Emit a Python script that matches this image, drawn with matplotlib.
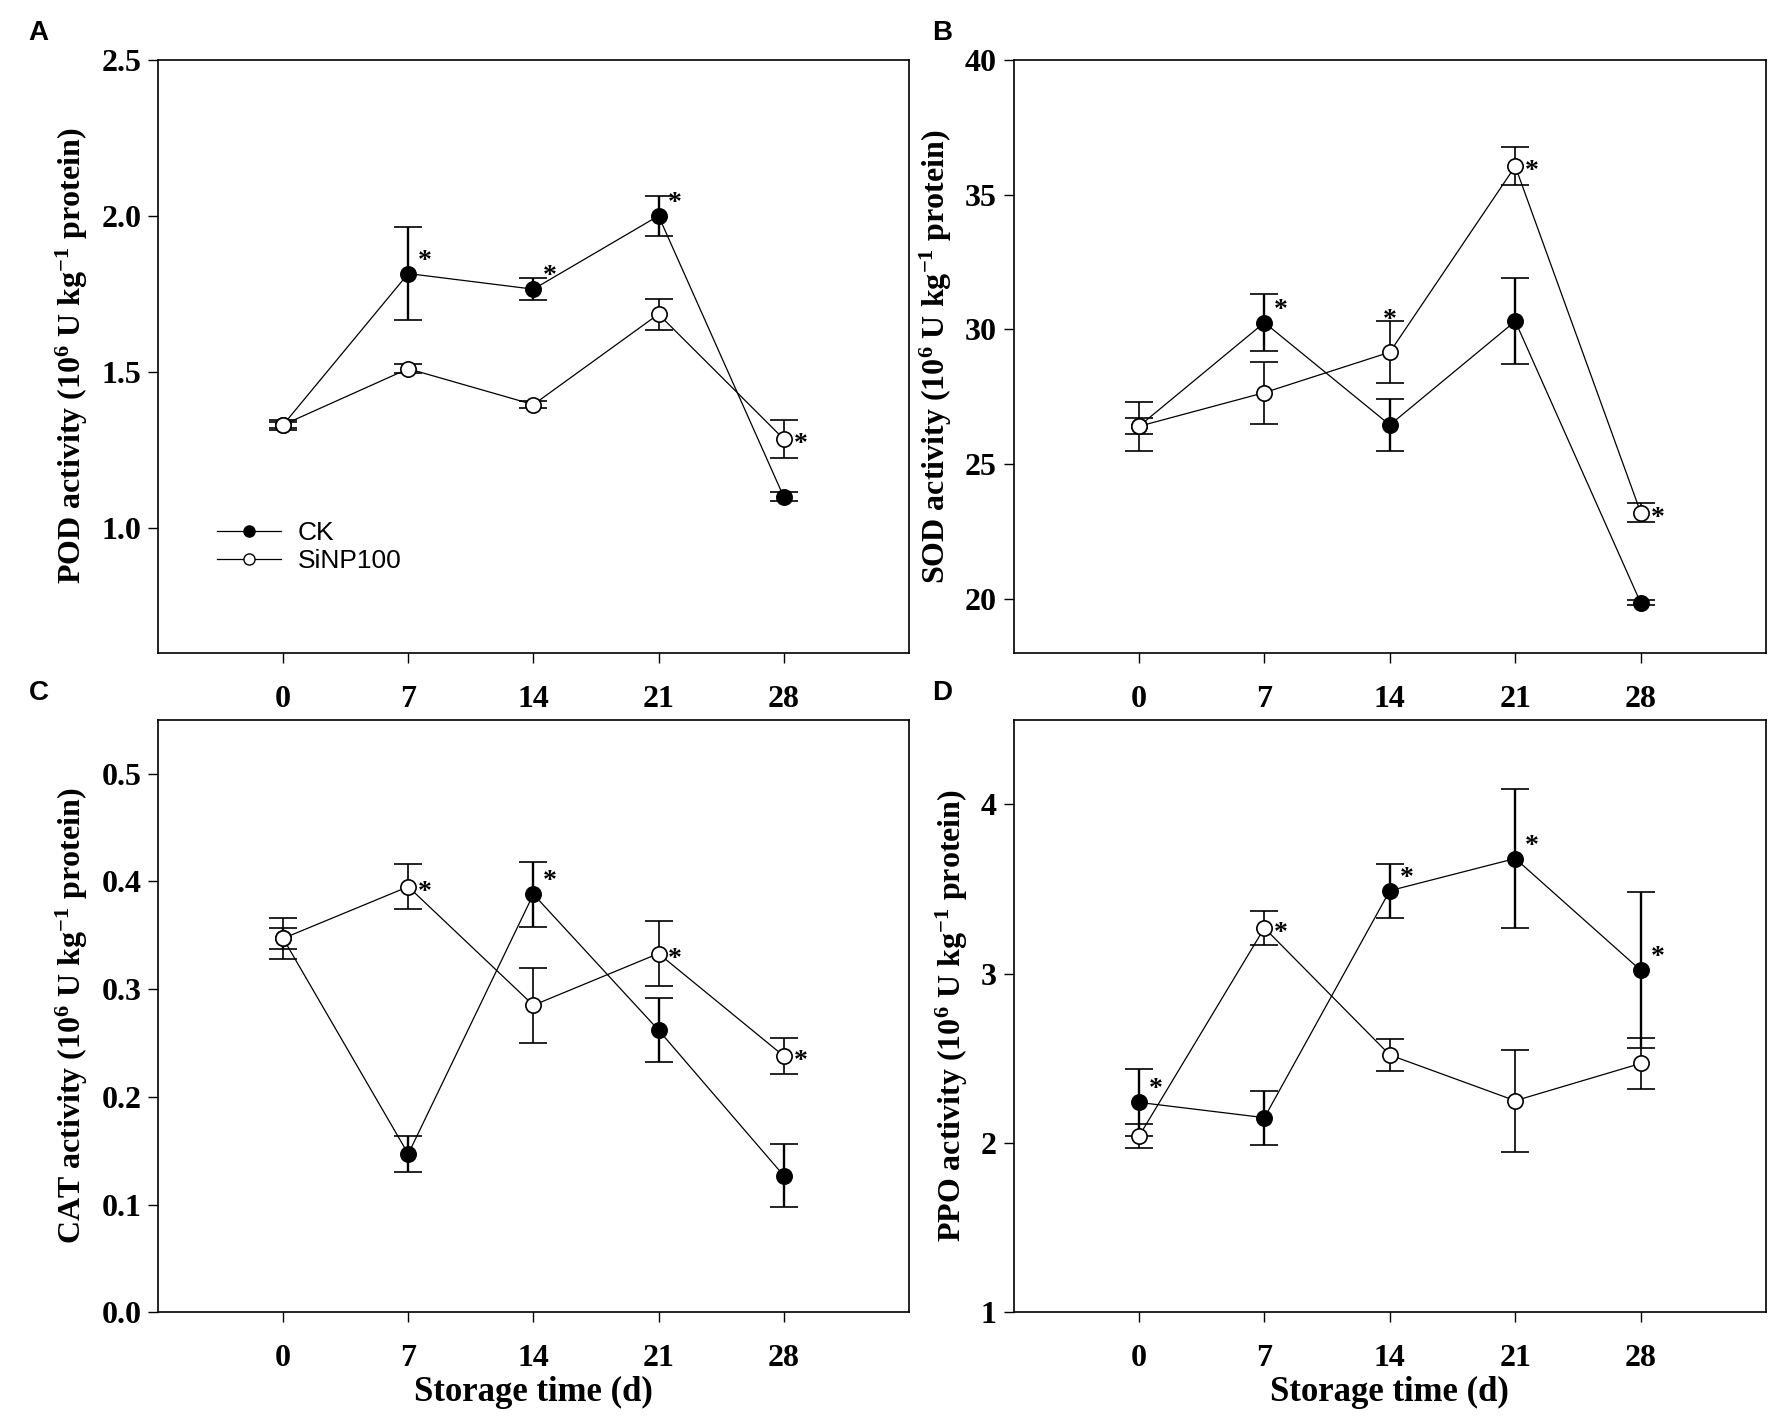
import matplotlib
matplotlib.use('Agg')
import matplotlib.pyplot as plt
from matplotlib.lines import Line2D
import numpy as np

days = [0, 7, 14, 21, 28]

# POD
pod_ck = [1.33, 1.815, 1.765, 2.00, 1.10]
pod_ck_err = [0.01, 0.15, 0.035, 0.065, 0.015]
pod_si = [1.33, 1.51, 1.395, 1.685, 1.285]
pod_si_err = [0.015, 0.015, 0.01, 0.05, 0.06]
pod_ck_star = [1, 2, 3]
pod_si_star = [4]

# SOD
sod_ck = [26.4, 30.25, 26.45, 30.3, 19.85]
sod_ck_err = [0.3, 1.05, 0.95, 1.6, 0.1]
sod_si = [26.4, 27.65, 29.15, 36.05, 23.2]
sod_si_err = [0.9, 1.15, 1.15, 0.7, 0.35]
sod_ck_star = [1]
sod_si_star = [2, 3, 4]

# CAT
cat_ck = [0.347, 0.147, 0.388, 0.262, 0.127]
cat_ck_err = [0.01, 0.017, 0.03, 0.03, 0.029]
cat_si = [0.347, 0.395, 0.285, 0.333, 0.238]
cat_si_err = [0.019, 0.021, 0.035, 0.03, 0.017]
cat_ck_star = [2]
cat_si_star = [1, 3, 4]

# PPO
ppo_ck = [2.24, 2.15, 3.49, 3.68, 3.02]
ppo_ck_err = [0.2, 0.16, 0.16, 0.41, 0.46]
ppo_si = [2.04, 3.27, 2.52, 2.25, 2.47]
ppo_si_err = [0.07, 0.10, 0.095, 0.30, 0.15]
ppo_ck_star = [0, 2, 3, 4]
ppo_si_star = [1]

plt.rcParams['font.family'] = ['Liberation Serif', 'DejaVu Serif']
plt.rcParams['font.weight'] = 'bold'
plt.rcParams['mathtext.fontset'] = 'custom'
plt.rcParams['mathtext.rm'] = 'Liberation Serif:bold'
plt.rcParams['mathtext.it'] = 'Liberation Serif:bold'
plt.rcParams['mathtext.bf'] = 'Liberation Serif:bold'
plt.rcParams['mathtext.default'] = 'rm'

fig = plt.figure(figsize=(17.75, 14.25), dpi=100)

panels = [
    ('A', [0.089, 0.542, 0.423, 0.416], 'POD', pod_ck, pod_ck_err, pod_si, pod_si_err,
     pod_ck_star, pod_si_star, (0.6, 2.5), [1.0, 1.5, 2.0, 2.5], '%.1f', False),
    ('B', [0.571, 0.542, 0.424, 0.416], 'SOD', sod_ck, sod_ck_err, sod_si, sod_si_err,
     sod_ck_star, sod_si_star, (18, 40), [20, 25, 30, 35, 40], '%d', False),
    ('C', [0.089, 0.079, 0.423, 0.416], 'CAT', cat_ck, cat_ck_err, cat_si, cat_si_err,
     cat_ck_star, cat_si_star, (0, 0.55), [0.0, 0.1, 0.2, 0.3, 0.4, 0.5], '%.1f', True),
    ('D', [0.571, 0.079, 0.424, 0.416], 'PPO', ppo_ck, ppo_ck_err, ppo_si, ppo_si_err,
     ppo_ck_star, ppo_si_star, (1, 4.5), [1, 2, 3, 4], '%d', True),
]

for letter, pos, name, ck, ck_err, si, si_err, ck_star, si_star, ylim, yt, fmt, xlab in panels:
    ax = fig.add_axes(pos)
    ax.errorbar(days, ck, yerr=ck_err, color='black', lw=0.9, marker='o', ms=11,
                mfc='black', mec='black', mew=1.2, ecolor='black', elinewidth=1.7,
                capsize=10, capthick=1.7, zorder=3)
    ax.errorbar(days, si, yerr=si_err, color='black', lw=0.9, marker='o', ms=11,
                mfc='white', mec='black', mew=1.2, ecolor='black', elinewidth=1.2,
                capsize=10, capthick=1.2, zorder=4)
    for i in ck_star:
        ax.annotate('*', (days[i], ck[i]), xytext=(7, 0), textcoords='offset points',
                    fontsize=20, ha='left', va='bottom')
    for i in si_star:
        off = (0, 14) if (name == 'SOD' and i == 2) else (7, -4)
        ha = 'center' if off[0] == 0 else 'left'
        ax.annotate('*', (days[i], si[i]), xytext=off, textcoords='offset points',
                    fontsize=20, ha=ha, va='bottom' if off[0] == 0 else 'center')
    ax.set_xlim(-7, 35)
    ax.set_ylim(*ylim)
    ax.set_xticks(days)
    ax.set_yticks(yt)
    ax.set_yticklabels([fmt % v for v in yt])
    ax.tick_params(axis='x', direction='out', length=7, width=1, pad=16, labelsize=23)
    ax.tick_params(axis='y', direction='out', length=7, width=1, pad=5, labelsize=23)
    for s in ax.spines.values():
        s.set_linewidth(1.2)
    ax.set_ylabel(name + r' activity (10$^{6}$ U kg$^{-1}$ protein)', fontsize=23,
                  fontweight='bold', labelpad=8)
    if xlab:
        ax.set_xlabel('Storage time (d)', fontsize=25, fontweight='bold', labelpad=2)
    if letter == 'A':
        handles = [Line2D([], [], color='black', lw=0.9, marker='o', ms=8,
                          mfc='black', mec='black'),
                   Line2D([], [], color='black', lw=0.9, marker='o', ms=8,
                          mfc='white', mec='black')]
        ax.legend(handles, ['CK', 'SiNP100'], loc='center left',
                  bbox_to_anchor=(0.079, 0.178), frameon=False, borderpad=0,
                  borderaxespad=0,
                  prop={'family': 'Liberation Sans', 'weight': 'normal', 'size': 19},
                  handlelength=2.4, handletextpad=0.65, labelspacing=0.15)
    fig.text(pos[0] - 0.073 if letter in 'AC' else pos[0] - 0.046, pos[1] + pos[3] + 0.019,
             letter, family='Liberation Sans', weight='bold', fontsize=20, ha='left', va='center')

fig.savefig('out.png', dpi=100)
